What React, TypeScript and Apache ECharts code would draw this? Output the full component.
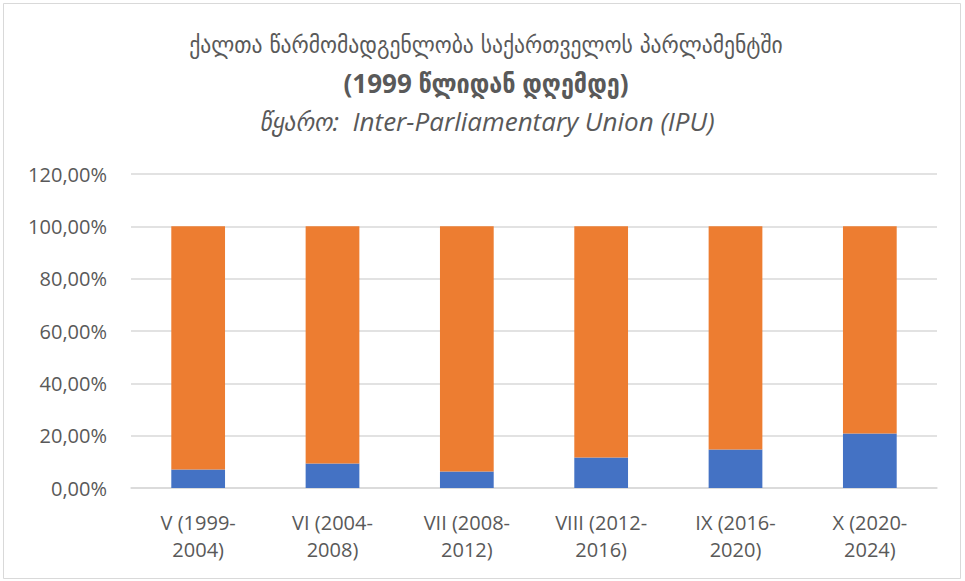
import React, { useEffect, useRef } from "react";
import * as echarts from "echarts";

const categories = [
  "V (1999-\n2004)",
  "VI (2004-\n2008)",
  "VII (2008-\n2012)",
  "VIII (2012-\n2016)",
  "IX (2016-\n2020)",
  "X (2020-\n2024)",
];
const women = [7.1, 9.4, 6.3, 11.7, 14.7, 20.8];
const men = [92.9, 90.6, 93.7, 88.3, 85.3, 79.2];
const titleLine1 = "ქალთა წარმომადგენლობა საქართველოს პარლამენტში";
const titleLine2 = "(1999 წლიდან დღემდე)";
const subtitle = "წყარო:  Inter-Parliamentary Union (IPU)";

export default function App() {
  const ref = useRef<HTMLDivElement>(null);
  useEffect(() => {
    if (!ref.current) return;
    const chart = echarts.init(ref.current, undefined, { renderer: "svg" });
    const font = "Open Sans, DejaVu Sans Condensed, DejaVu Sans, sans-serif";
    const geo = "DejaVu Sans Condensed, DejaVu Sans, sans-serif";
    chart.setOption({
      animation: false,
      backgroundColor: "#ffffff",
      textStyle: { fontFamily: font },
      grid: { left: 131, right: 28, top: 174, bottom: 93 },
      graphic: [
        {
          type: "rect",
          shape: { x: 3.5, y: 3.5, width: 957, height: 575 },
          style: { fill: "none", stroke: "#d9d9d9", lineWidth: 1 },
          silent: true,
        },
        {
          type: "text",
          x: 486,
          y: 45,
          style: {
            text: titleLine1,
            fill: "#595959",
            font: `24px ${geo}`,
            align: "center",
            verticalAlign: "middle",
          },
        },
        {
          type: "text",
          x: 486,
          y: 83,
          style: {
            text: titleLine2,
            fill: "#595959",
            font: `bold 26px ${font}`,
            align: "center",
            verticalAlign: "middle",
          },
        },
        {
          type: "text",
          x: 487,
          y: 121,
          style: {
            text: subtitle,
            fill: "#595959",
            font: `italic 26px ${font}`,
            align: "center",
            verticalAlign: "middle",
          },
        },
      ],
      xAxis: {
        type: "category",
        data: categories,
        axisLine: { show: true, lineStyle: { color: "#d9d9d9", width: 1.5 } },
        axisTick: { show: false },
        axisLabel: {
          color: "#595959",
          fontSize: 20,
          lineHeight: 27,
          margin: 21,
          interval: 0,
        },
      },
      yAxis: {
        type: "value",
        min: 0,
        max: 120,
        interval: 20,
        axisLine: { show: false },
        axisTick: { show: false },
        axisLabel: {
          color: "#595959",
          fontSize: 20,
          margin: 24,
          formatter: (v: number) => v.toFixed(2).replace(".", ",") + "%",
        },
        splitLine: { lineStyle: { color: "#d9d9d9", width: 1.5 } },
      },
      series: [
        {
          name: "ქალი",
          type: "bar",
          stack: "total",
          data: women,
          barWidth: "40%",
          itemStyle: { color: "#4472c4" },
        },
        {
          name: "კაცი",
          type: "bar",
          stack: "total",
          data: men,
          barWidth: "40%",
          itemStyle: { color: "#ed7d31" },
        },
      ],
    });
    return () => chart.dispose();
  }, []);
  return (
    <div
      ref={ref}
      style={{ position: "fixed", left: 0, top: 0, width: 965, height: 581 }}
    />
  );
}
